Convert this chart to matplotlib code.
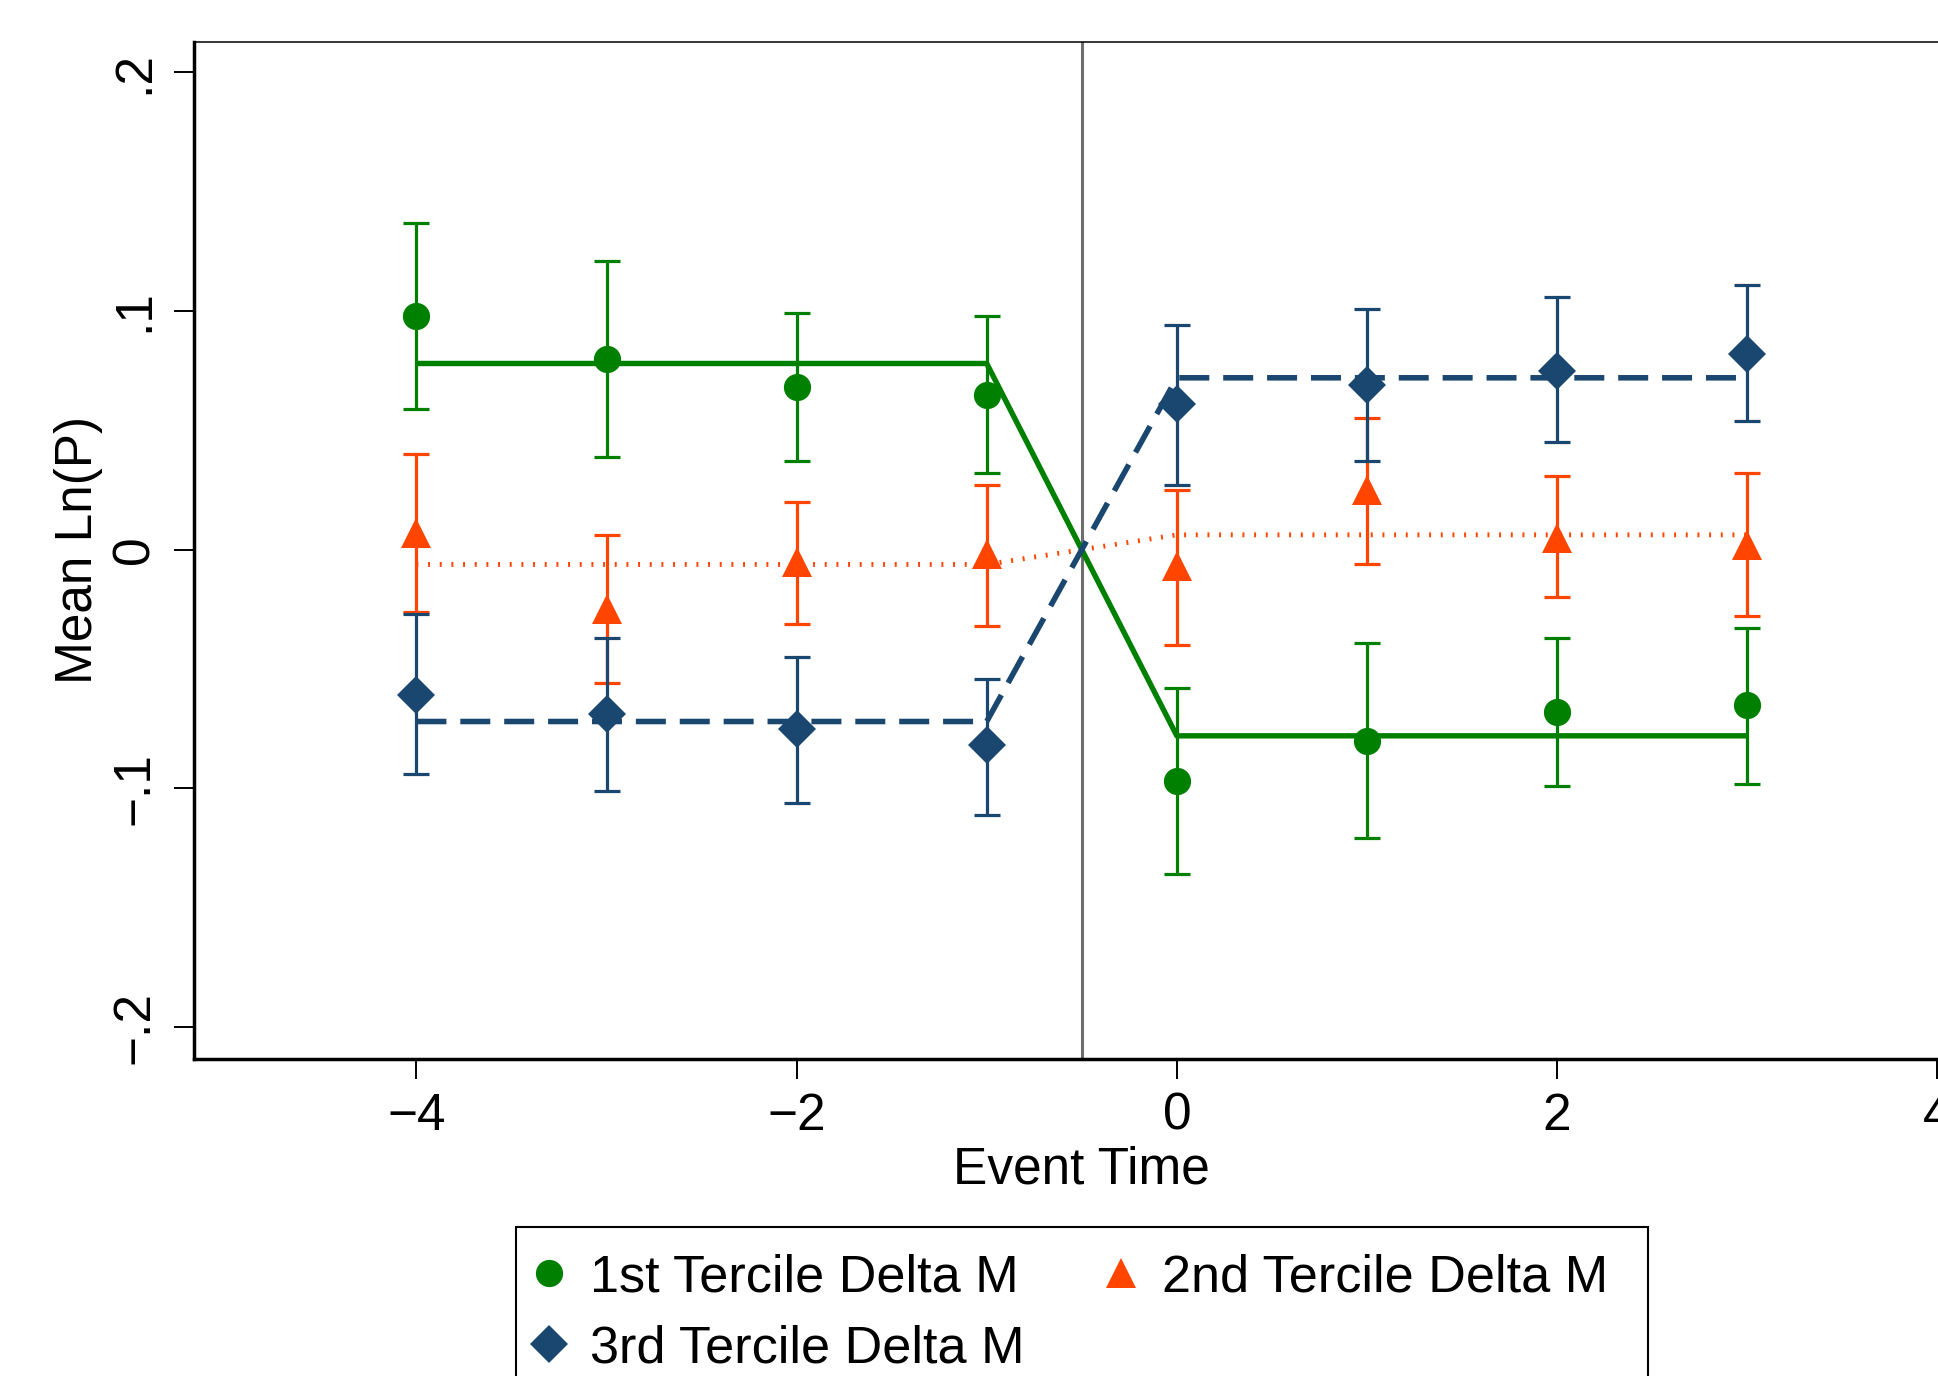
import matplotlib
matplotlib.use("Agg")
import matplotlib.pyplot as plt
from matplotlib.lines import Line2D
from matplotlib.patches import Rectangle
import numpy as np

plt.rcParams['font.family'] = ['Liberation Sans', 'DejaVu Sans']

# ---------------- data ----------------
event_time = [-4, -3, -2, -1, 0, 1, 2, 3]

t1_mean = [0.098, 0.080, 0.068, 0.065, -0.097, -0.080, -0.068, -0.065]
t1_lo   = [0.059, 0.039, 0.037, 0.032, -0.136, -0.121, -0.099, -0.098]
t1_hi   = [0.137, 0.121, 0.099, 0.098, -0.058, -0.039, -0.037, -0.033]
t1_fit  = [0.078, 0.078, 0.078, 0.078, -0.078, -0.078, -0.078, -0.078]

t2_mean = [0.007, -0.025, -0.005, -0.002, -0.007, 0.025, 0.005, 0.002]
t2_lo   = [-0.026, -0.056, -0.031, -0.032, -0.040, -0.006, -0.020, -0.028]
t2_hi   = [0.040, 0.006, 0.020, 0.027, 0.025, 0.055, 0.031, 0.032]
t2_fit  = [-0.0062, -0.0062, -0.0062, -0.0062, 0.0062, 0.0062, 0.0062, 0.0062]

t3_mean = [-0.061, -0.069, -0.075, -0.082, 0.061, 0.069, 0.075, 0.082]
t3_lo   = [-0.094, -0.101, -0.106, -0.111, 0.027, 0.037, 0.045, 0.054]
t3_hi   = [-0.027, -0.037, -0.045, -0.054, 0.094, 0.101, 0.106, 0.111]
t3_fit  = [-0.072, -0.072, -0.072, -0.072, 0.072, 0.072, 0.072, 0.072]

event_line = -0.5

series_labels = ["1st Tercile Delta M", "2nd Tercile Delta M", "3rd Tercile Delta M"]
x_ticks = [-4, -2, 0, 2, 4]
x_ticklabels = ["\u22124", "\u22122", "0", "2", "4"]
y_ticks = [0.2, 0.1, 0.0, -0.1, -0.2]
y_ticklabels = [".2", ".1", "0", "\u2212.1", "\u2212.2"]
x_label = "Event Time"
y_label = "Mean Ln(P)"

# ---------------- style ----------------
GREEN = "#008000"
ORANGE = "#FF4500"
NAVY = "#1A476F"
FS = 37
LEG_FS = 37.6

W, H = 1938, 1376
fig = plt.figure(figsize=(W / 100, H / 100), dpi=100)
xmin, xmax = -5.17, 4.17
ymin, ymax = -0.2134, 0.2129
unit_px = 190.1
ax_left, ax_top, ax_bottom = 194, 41.5, 1059
ax = fig.add_axes([ax_left / W, 1 - ax_bottom / H,
                   (xmax - xmin) * unit_px / W, (ax_bottom - ax_top) / H])
ax.set_xlim(xmin, xmax)
ax.set_ylim(ymin, ymax)

# vertical event line
ax.axvline(event_line, color="#6E6E6E", lw=2.2, zorder=1)

x = np.array(event_time)

def draw(mean, lo, hi, fit, color, marker, ms, ls_kw):
    mean = np.array(mean); lo = np.array(lo); hi = np.array(hi)
    ax.plot(x, fit, color=color, zorder=2, **ls_kw)
    ax.errorbar(x, mean, yerr=[mean - lo, hi - mean], fmt='none', ecolor=color,
                elinewidth=2.3, capsize=9.4, capthick=2.3, zorder=3)
    ax.plot(x, mean, linestyle='none', marker=marker, markersize=ms,
            color=color, mew=0, zorder=4)

draw(t1_mean, t1_lo, t1_hi, t1_fit, GREEN, 'o', 19.6,
     dict(lw=3.9, solid_capstyle='butt'))
draw(t2_mean, t2_lo, t2_hi, t2_fit, ORANGE, '^', 21.5,
     dict(lw=3.5, dashes=(0.4, 2.0), dash_capstyle='butt'))
draw(t3_mean, t3_lo, t3_hi, t3_fit, NAVY, 'D', 19.2,
     dict(lw=4.0, dashes=(5.4, 2.5), dash_capstyle='butt'))

# axes styling
for s in ['left', 'bottom']:
    ax.spines[s].set_linewidth(2.5)
    ax.spines[s].set_color('black')
ax.spines['top'].set_linewidth(1.1)
ax.spines['right'].set_linewidth(1.1)

ax.set_xticks(x_ticks)
ax.set_xticklabels(x_ticklabels)
ax.set_yticks(y_ticks)
ax.set_yticklabels(y_ticklabels, rotation=90, va='center', ha='right')
ax.tick_params(axis='both', direction='out', length=14.4, width=1.4,
               labelsize=FS, color='black')
ax.tick_params(axis='x', pad=9)
ax.tick_params(axis='y', pad=10.5)

fig.text((ax_left + (xmax - xmin) * unit_px / 2) / W, 1 - 1184 / H, x_label,
         fontsize=FS, ha='center', va='baseline')
fig.text(92 / W, 1 - 550 / H, y_label, fontsize=FS, rotation=90,
         rotation_mode='anchor', ha='center', va='baseline')

# legend box (extends past the bottom edge as in the original)
leg_l, leg_r, leg_t = 516, 1648, 1227
fig.patches.append(Rectangle((leg_l / W, 1 - (leg_t + 300) / H),
                             (leg_r - leg_l) / W, 300 / H,
                             transform=fig.transFigure, facecolor='white',
                             edgecolor='black', linewidth=1.5, zorder=5))

# legend (row-wise order like the original: 1st, 2nd / 3rd)
h1 = Line2D([], [], linestyle='none', marker='o', markersize=19.6, color=GREEN, mew=0)
h2 = Line2D([], [], linestyle='none', marker='^', markersize=21.5, color=ORANGE, mew=0)
h3 = Line2D([], [], linestyle='none', marker='D', markersize=19.2, color=NAVY, mew=0)
leg = fig.legend([h1, h3, h2], [series_labels[0], series_labels[2], series_labels[1]],
                 ncol=2, loc='upper left',
                 bbox_to_anchor=(leg_l / W, 1 - leg_t / H), bbox_transform=fig.transFigure,
                 frameon=False,
                 borderpad=0.5, handlelength=0.28, handletextpad=0.64,
                 columnspacing=1.71, labelspacing=0.43, borderaxespad=0,
                 fontsize=LEG_FS)
leg.set_zorder(6)

fig.savefig("out.png", dpi=100)
